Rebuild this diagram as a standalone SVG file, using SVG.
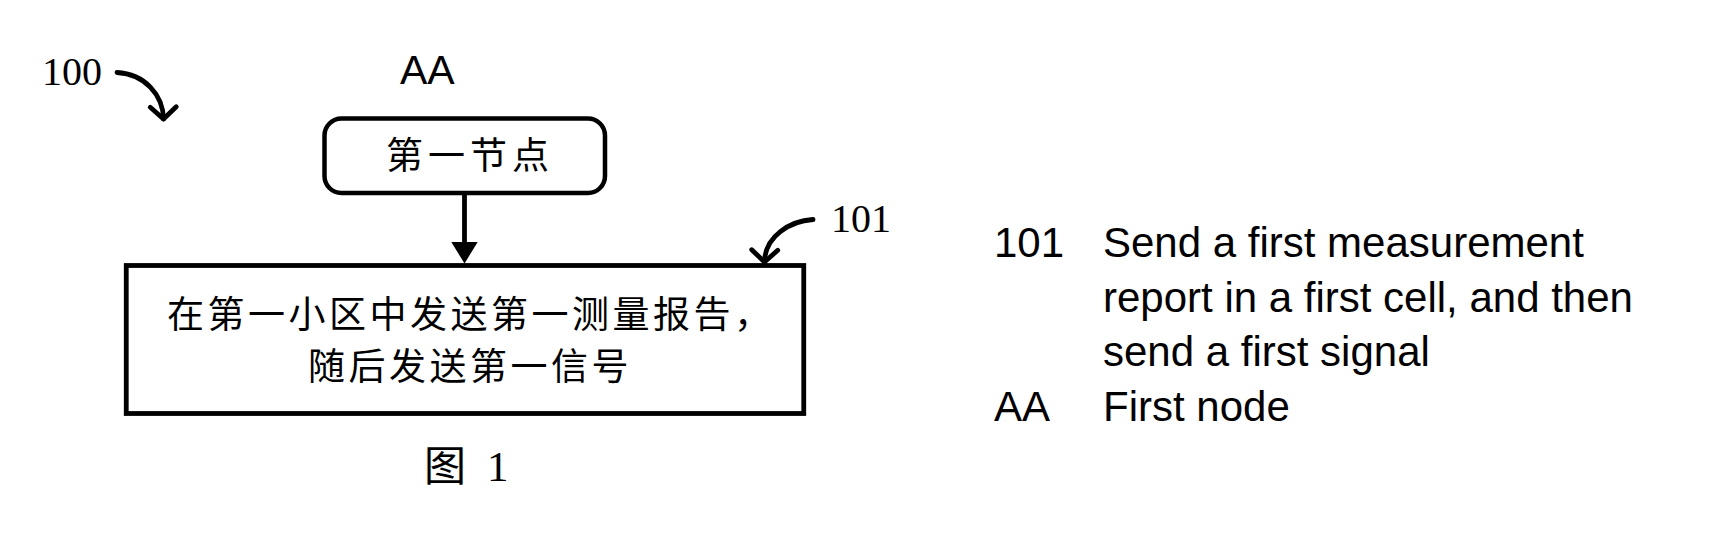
<svg xmlns="http://www.w3.org/2000/svg" width="1710" height="552" viewBox="0 0 1710 552">
  <style>
    .sans { font-family: "Liberation Sans", Arial, sans-serif; fill: #000; }
    .serif { font-family: "Liberation Serif", "Times New Roman", serif; fill: #000; }
    .cjk { font-family: "Liberation Serif", "Noto Sans CJK SC", sans-serif; fill: #000; }
    .box { fill: #fff; stroke: #000; }
    .wire { fill: none; stroke: #000; stroke-width: 4.8; stroke-linecap: round; }
  </style>
  <defs>
    <marker id="chev" markerUnits="userSpaceOnUse" viewBox="-20 -20 40 40" refX="0" refY="0" markerWidth="40" markerHeight="40" orient="auto" overflow="visible">
      <path d="M-12,-13 L0,0 L-12,13" fill="none" stroke="#000" stroke-width="4.8" stroke-linecap="round" stroke-linejoin="round"/>
    </marker>
    <marker id="tri" markerUnits="userSpaceOnUse" viewBox="0 0 22 27" refX="1.5" refY="13.5" markerWidth="22" markerHeight="27" orient="auto">
      <path d="M0,0 L22,13.5 L0,27 Z" fill="#000"/>
    </marker>
  </defs>
  <rect width="1710" height="552" fill="#fff"/>

  <g id="label-100">
    <text class="serif" x="42" y="84.5" font-size="40">100</text>
  </g>

  <g id="node-AA">
    <text class="sans" x="400" y="84" font-size="41">AA</text>
    <rect class="box" x="324.5" y="118.5" width="280.5" height="74.5" rx="17" ry="17" stroke-width="4.5"/>
    <text class="cjk" x="386" y="169" font-size="37" letter-spacing="5">第一节点</text>
  </g>

  <g id="node-101">
    <rect class="box" x="126.25" y="265.5" width="677.5" height="148" stroke-width="4.8"/>
    <text class="cjk" x="167" y="328" font-size="37" letter-spacing="3.5">在第一小区中发送第一测量报告，</text>
    <text class="cjk" x="308" y="380" font-size="37" letter-spacing="3.5">随后发送第一信号</text>
  </g>

  <g id="label-101">
    <text class="serif" x="831" y="231.5" font-size="40">101</text>
  </g>

  <g id="caption">
    <text class="cjk" x="424" y="481" font-size="42">图 <tspan class="serif" x="487" font-size="43">1</tspan></text>
  </g>

  <g id="legend">
    <text class="sans" x="994" y="257" font-size="42">101</text>
    <text class="sans" x="1103" y="257" font-size="42">Send a first measurement</text>
    <text class="sans" x="1103" y="311.5" font-size="42">report in a first cell, and then</text>
    <text class="sans" x="1103" y="366" font-size="42">send a first signal</text>
    <text class="sans" x="994" y="420.5" font-size="42">AA</text>
    <text class="sans" x="1103" y="420.5" font-size="42">First node</text>
  </g>

  <g id="connectors">
    <line class="wire" x1="464.5" y1="195" x2="464.5" y2="243" stroke-linecap="butt" marker-end="url(#tri)"/>
    <path class="wire" d="M117,72.5 C145,74 163,95 163.5,119" marker-end="url(#chev)"/>
    <path class="wire" d="M813,219.5 C790,221 765,236 764.5,262" marker-end="url(#chev)"/>
  </g>
</svg>
